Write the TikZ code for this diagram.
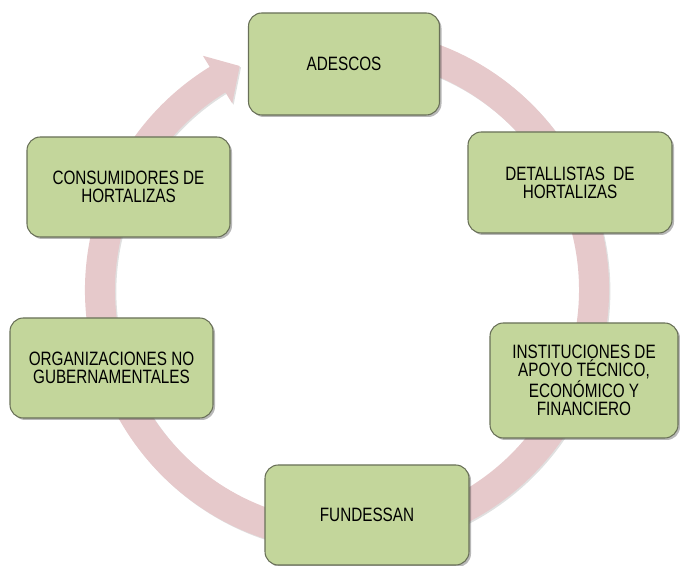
\documentclass[tikz,border=0pt]{standalone}
\usepackage{fontspec}
\setmainfont[FakeStretch=0.79]{Liberation Sans}
\usetikzlibrary{calc,shadows}

\definecolor{boxgreen}{RGB}{195,214,155}
\definecolor{boxedge}{RGB}{105,112,88}
\definecolor{ringpink}{RGB}{230,201,203}

\tikzset{
  stage/.style 2 args={
    draw=boxedge, line width=0.8pt, fill=boxgreen,
    rounded corners=10pt, align=center,
    minimum width=#1*0.75pt, minimum height=#2*0.75pt,
    inner sep=2pt,
    font=\fontsize{14.5pt}{13.7pt}\selectfont,
    drop shadow={shadow xshift=1.5pt, shadow yshift=-1.5pt, fill=black, opacity=0.28}
  }
}

\begin{document}
\begin{tikzpicture}[x=0.75pt, y=0.75pt]
\useasboundingbox (0,0) rectangle (680,566);

% centre of the cycle
\coordinate (c) at (347,276);

% circular arrow running clockwise, ending next to ADESCOS
\fill[ringpink, drop shadow={shadow xshift=1pt, shadow yshift=-1pt, fill=black, opacity=0.12}]
  ($(c)+(78:262)$) arc[start angle=78, end angle=-238.4, radius=262]
  -- ($(c)+(-238.4:275)$)
  -- ($(c)+(121.6:247)+(31.6:26)$)
  -- ($(c)+(-238.4:219)$)
  -- ($(c)+(-238.4:232)$)
  arc[start angle=-238.4, end angle=78, radius=232]
  -- cycle;

% stages of the cycle
\node[stage={191}{102}] (adescos) at (344,502) {ADESCOS};
\node[stage={204}{101}] (detallistas) at (570,383.5) {DETALLISTAS\ \ DE\\HORTALIZAS};
\node[stage={188}{115}] (instituciones) at (584,185.5) {INSTITUCIONES DE\\APOYO TÉCNICO,\\ECONÓMICO Y\\FINANCIERO};
\node[stage={204}{100}] (fundessan) at (367,51) {FUNDESSAN};
\node[stage={203}{100}] (ong) at (111.5,198) {ORGANIZACIONES NO\\GUBERNAMENTALES};
\node[stage={203}{100}] (consumidores) at (128.5,379) {CONSUMIDORES DE\\HORTALIZAS};
\end{tikzpicture}
\end{document}
